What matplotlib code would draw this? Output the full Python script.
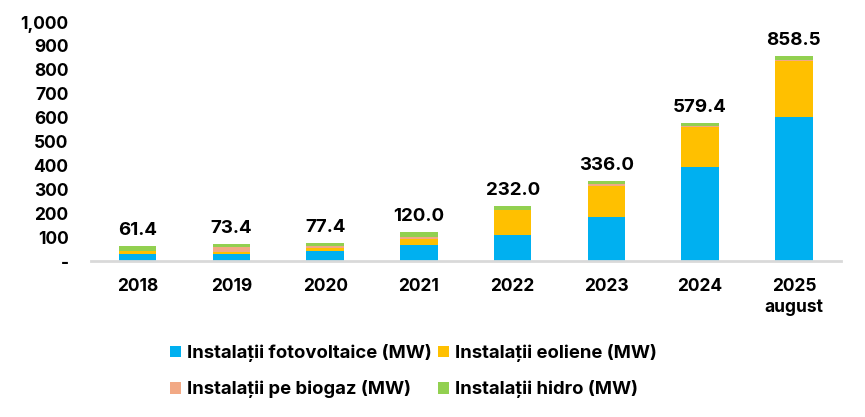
import matplotlib.pyplot as plt
import numpy as np

# --- date ---
years = ["2018", "2019", "2020", "2021", "2022", "2023", "2024", "2025\naugust"]
pv = [29.5, 30.0, 44.0, 67.0, 110.0, 183.0, 394.0, 604.0]
wind = [10.5, 9.0, 12.0, 27.0, 103.0, 133.0, 165.0, 235.0]
biogas = [2.0, 19.0, 6.0, 7.0, 2.0, 5.0, 5.0, 3.0]
hydro = [19.4, 15.4, 15.4, 19.0, 17.0, 15.0, 15.4, 16.5]
totals = [61.4, 73.4, 77.4, 120.0, 232.0, 336.0, 579.4, 858.5]
yticks = [0, 100, 200, 300, 400, 500, 600, 700, 800, 900, 1000]

plt.rcParams['font.family'] = ['Inter', 'DejaVu Sans']

fig = plt.figure(figsize=(8.65, 4.17), dpi=100)
ax = fig.add_axes([0.105, 0.374, 0.867, 0.573])

x = np.arange(len(years))
w = 0.4
b1 = ax.bar(x, pv, w, color='#00B0F0', label='Instalații fotovoltaice (MW)')
b2 = ax.bar(x, wind, w, bottom=pv, color='#FFC000', label='Instalații eoliene (MW)')
bot3 = np.array(pv) + np.array(wind)
b3 = ax.bar(x, biogas, w, bottom=bot3, color='#F2A985', label='Instalații pe biogaz (MW)')
bot4 = bot3 + np.array(biogas)
b4 = ax.bar(x, hydro, w, bottom=bot4, color='#92D050', label='Instalații hidro (MW)')

top = bot4 + np.array(hydro)
for xi, t, lab in zip(x, top, totals):
    ax.annotate(f"{lab:.1f}", (xi, t), xytext=(0, 5), textcoords='offset points',
                ha='center', va='bottom', fontsize=13.5, fontweight='bold')

ax.set_ylim(0, 1000)
ax.set_xlim(-0.5, len(years) - 0.5)
ax.set_yticks(yticks)
ax.set_yticklabels(['-' if v == 0 else f"{v:,}" for v in yticks],
                   fontsize=12.5, fontweight='bold')
ax.set_xticks(x)
ax.set_xticklabels(years, fontsize=12.5, fontweight='bold', linespacing=1.35)
ax.tick_params(axis='both', length=0)
ax.tick_params(axis='y', pad=16)
ax.tick_params(axis='x', pad=12)
for s in ['top', 'right', 'left']:
    ax.spines[s].set_visible(False)
ax.spines['bottom'].set_color('#D9D9D9')
ax.spines['bottom'].set_linewidth(2)

leg = fig.legend([b1, b3, b2, b4],
                 [b1.get_label(), b3.get_label(), b2.get_label(), b4.get_label()],
                 loc='center', bbox_to_anchor=(0.478, 0.11), ncol=2, frameon=False,
                 prop={'size': 13.3, 'weight': 'bold'}, handlelength=0.6, handleheight=0.6,
                 handletextpad=0.35, columnspacing=0.3, labelspacing=1.0)

plt.savefig('out.png', dpi=100)
